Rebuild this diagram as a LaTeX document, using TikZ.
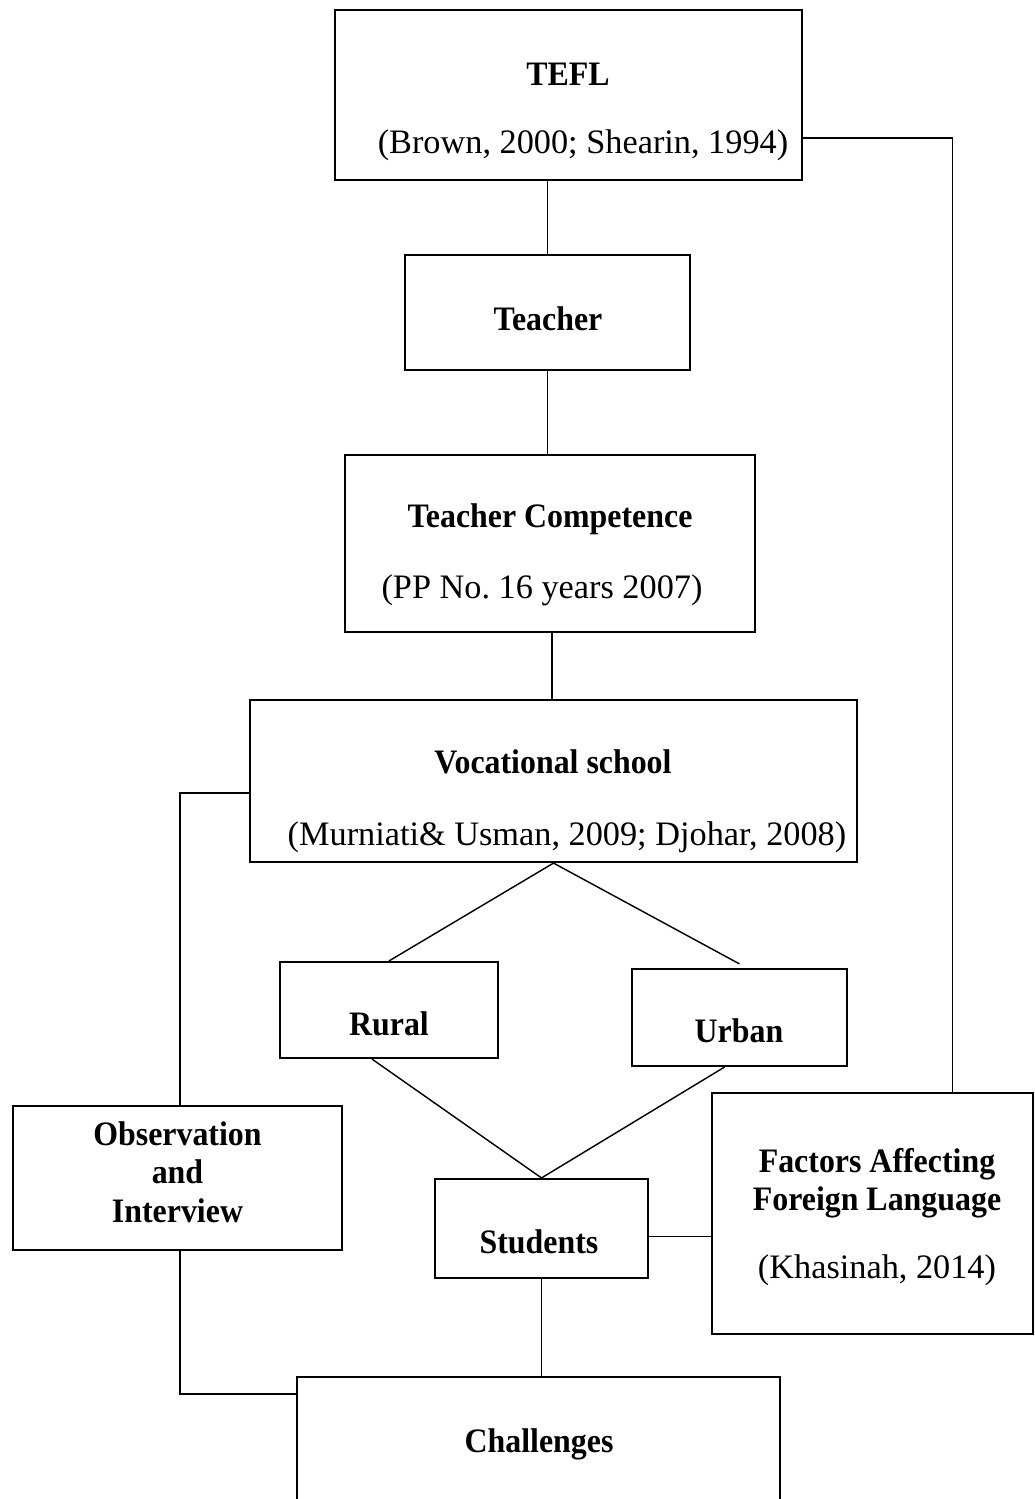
\documentclass[tikz,border=0pt]{standalone}
\usepackage{fontspec}
\setmainfont{Liberation Serif}
\newfontfamily\condserif{Liberation Serif}[FakeStretch=0.93]

\newcommand{\px}{0.35pt}
\newcommand{\diagfont}{\fontsize{12}{13.4}\selectfont}

\tikzset{
  box/.style={draw, line width=0.75pt, inner sep=0pt},
  link/.style={line width=0.5pt},
  title/.style={font=\diagfont\condserif\bfseries, anchor=base},
  txt/.style={font=\diagfont, anchor=base},
}

% box between two corners given in pixels
\newcommand{\boxat}[5]{%
  \node[box, minimum width={(#4-#2)*\px}, minimum height={(#5-#3)*\px}]
    (#1) at ({(#2+#4)/2},{(#3+#5)/2}) {};}

\begin{document}
\begin{tikzpicture}[x=\px, y=-\px]
  \useasboundingbox (0,0) rectangle (1035,1499);

  % Boxes
  \boxat{tefl}{335}{10}{802}{180}
  \boxat{teacher}{405}{255}{690}{370}
  \boxat{comp}{345}{455}{755}{632}
  \boxat{voc}{250}{700}{857}{862}
  \boxat{rural}{280}{962}{498}{1058}
  \boxat{urban}{632}{969}{847}{1066}
  \boxat{obs}{13}{1106}{342}{1250}
  \boxat{students}{435}{1179}{648}{1278}
  \boxat{factors}{712}{1093}{1033}{1334}
  \boxat{chall}{297}{1377}{780}{1515}

  % Texts
  \node[title] (tefl-t) at (568,85) {TEFL};
  \node[txt] (tefl-r) at (583,153) {(Brown, 2000; Shearin, 1994)};
  \node[title] (teacher-t) at (548,330) {Teacher};
  \node[title] (comp-t) at (550,527) {Teacher Competence};
  \node[txt] (comp-r) at (542,598) {(PP No.\ 16 years 2007)};
  \node[title] (voc-t) at (553,773) {Vocational school};
  \node[txt] (voc-r) at (567,845) {(Murniati\& Usman, 2009; Djohar, 2008)};
  \node[title] (rural-t) at (389,1035) {Rural};
  \node[title] (urban-t) at (739,1042) {Urban};
  \node[title, anchor=center, align=center] (obs-t) at (177.5,1172) {Observation\\and\\Interview};
  \node[title] (students-t) at (539,1253) {Students};
  \node[title, anchor=center, align=center] (factors-t) at (877,1183) {Factors Affecting\\Foreign Language};
  \node[txt] (factors-r) at (877,1278) {(Khasinah, 2014)};
  \node[title] (chall-t) at (539,1452) {Challenges};

  % Connectors
  \coordinate (sf) at ([yshift=-8*\px]students.east);
  \draw[link] (teacher.north) -- (teacher.north |- tefl.south);
  \draw[link] (teacher.south) -- (teacher.south |- comp.north);
  \draw[link] ([xshift=2*\px]comp.south) -- ([xshift=2*\px]comp.south |- voc.north);
  \draw[link] (voc.south) -- (rural.north);
  \draw[link] (voc.south) -- ([yshift=4*\px]urban.north);
  \draw[link] ([xshift=-17*\px]rural.south) -- (students.north);
  \draw[link] ([xshift=-15*\px]urban.south) -- (students.north);
  \draw[link] (students.south) -- (students.south |- chall.north);
  \draw[link] (sf) -- (sf -| factors.west);
  \draw[link] ([yshift=-43*\px]tefl.east) -| ([xshift=80*\px]factors.north);
  \draw[link] ([yshift=-12*\px]voc.west) -| ([xshift=2.5*\px]obs.north);
  \draw[link] ([xshift=2.5*\px]obs.south) |- ([yshift=-18*\px]chall.north west);
\end{tikzpicture}
\end{document}
